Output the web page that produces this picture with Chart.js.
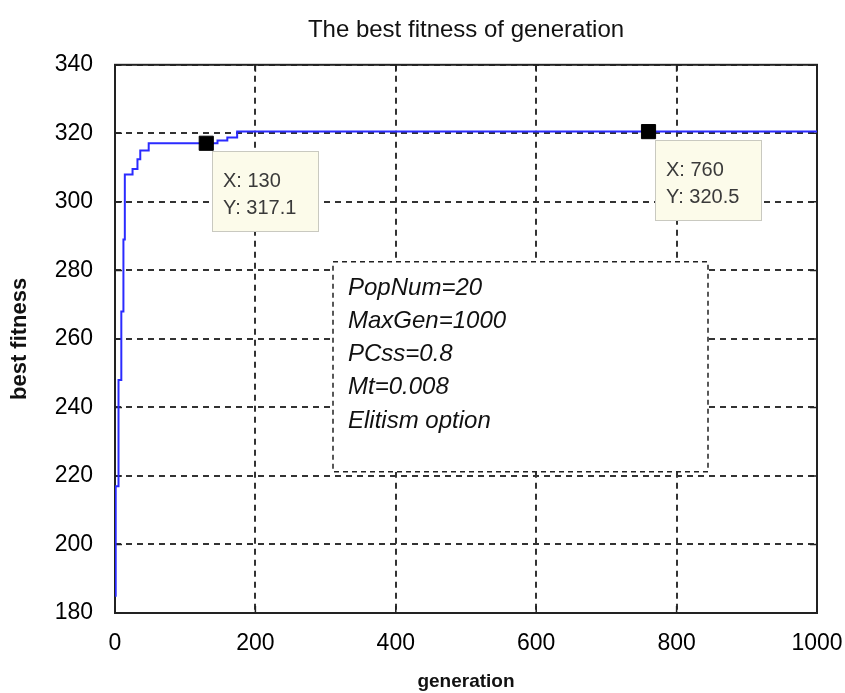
<!DOCTYPE html>
<html>
<head>
<meta charset="utf-8">
<script src="https://cdn.jsdelivr.net/npm/chart.js@4.4.0/dist/chart.umd.min.js"></script>
<style>
  body { margin: 0; background: #fff; }
</style>
</head>
<body>
<canvas id="fitChart" width="845" height="693"></canvas>
<script>
// best fitness per generation (stepped curve, value changes at each generation listed)
const generation = [0, 1, 5, 9, 12, 14, 25, 32, 36, 48, 146, 160, 174, 1000];
const bestFitness = [185, 217, 248, 268, 289, 308, 309.6, 312.4, 315, 317.1, 317.9, 318.8, 320.5, 320.5];

// data tips
const markerGen = [130, 760];
const markerFit = [317.1, 320.5];

const xTicks = [0, 200, 400, 600, 800, 1000];
const yTicks = [180, 200, 220, 240, 260, 280, 300, 320, 340];

const paramLines = ['PopNum=20', 'MaxGen=1000', 'PCss=0.8', 'Mt=0.008', 'Elitism option'];

const FONT = '"Liberation Sans", Arial, sans-serif';

// cadre, petits traits, boite de texte et etiquettes
const extras = {
  id: 'extras',
  beforeDatasetsDraw(chart) {
    const ctx = chart.ctx, ca = chart.chartArea;
    const xs = chart.scales.x, ys = chart.scales.y;
    ctx.save();
    ctx.strokeStyle = '#222';
    ctx.lineWidth = 2;
    ctx.setLineDash([]);
    ctx.strokeRect(ca.left, ca.top, ca.right - ca.left, ca.bottom - ca.top);
    ctx.lineWidth = 1.5;
    ctx.beginPath();
    xTicks.forEach(v => {
      const px = xs.getPixelForValue(v);
      ctx.moveTo(px, ca.top); ctx.lineTo(px, ca.top + 7);
      ctx.moveTo(px, ca.bottom); ctx.lineTo(px, ca.bottom - 7);
    });
    yTicks.forEach(v => {
      const py = ys.getPixelForValue(v);
      ctx.moveTo(ca.left, py); ctx.lineTo(ca.left + 7, py);
      ctx.moveTo(ca.right, py); ctx.lineTo(ca.right - 7, py);
    });
    ctx.stroke();

    // boite des parametres
    const bx = ca.left + 218, by = ca.top + 197, bw = 375, bh = 210;
    ctx.fillStyle = '#fff';
    ctx.fillRect(bx, by, bw, bh);
    ctx.setLineDash([5, 4]);
    ctx.strokeStyle = '#222';
    ctx.lineWidth = 1.5;
    ctx.strokeRect(bx, by, bw, bh);
    ctx.setLineDash([]);
    ctx.fillStyle = '#111';
    ctx.font = 'italic 24px ' + FONT;
    ctx.textBaseline = 'alphabetic';
    paramLines.forEach((t, i) => {
      ctx.fillText(t, bx + 15, by + 33 + i * 33.2);
    });
    ctx.restore();
  },
  afterDraw(chart) {
    const ctx = chart.ctx;
    const xs = chart.scales.x, ys = chart.scales.y;
    ctx.save();
    markerGen.forEach((g, i) => {
      const px = xs.getPixelForValue(g), py = ys.getPixelForValue(markerFit[i]);
      const bx = Math.round(px + 6), by = Math.round(py + 8), bw = 106, bh = 80;
      ctx.fillStyle = '#fcfbea';
      ctx.fillRect(bx, by, bw, bh);
      ctx.strokeStyle = '#c9c9c0';
      ctx.lineWidth = 1;
      ctx.strokeRect(bx + 0.5, by + 0.5, bw, bh);
      ctx.fillStyle = '#3a3a3a';
      ctx.font = '20px ' + FONT;
      ctx.fillText('X: ' + g, bx + 11, by + 36);
      ctx.fillText('Y: ' + markerFit[i].toFixed(1), bx + 11, by + 63);
    });
    ctx.restore();
  }
};

const ctx = document.getElementById('fitChart').getContext('2d');
const fitChart = new Chart(ctx, {
  type: 'line',
  data: {
    datasets: [{
      label: 'data tips',
      data: markerGen.map((g, i) => ({ x: g, y: markerFit[i] })),
      showLine: false,
      pointStyle: 'rect',
      pointRadius: 10,
      pointBackgroundColor: '#000',
      pointBorderColor: '#000',
      pointBorderWidth: 1,
      order: 0
    }, {
      label: 'best fitness',
      data: generation.map((g, i) => ({ x: g, y: bestFitness[i] })),
      stepped: true,
      borderColor: '#2b2bff',
      borderWidth: 2,
      pointRadius: 0,
      fill: false,
      order: 1
    }]
  },
  options: {
    responsive: false,
    animation: false,
    layout: { padding: { left: 0, right: 28, top: 0, bottom: 0 } },
    plugins: {
      legend: { display: false },
      tooltip: { enabled: false },
      title: {
        display: true,
        text: 'The best fitness of generation',
        fullSize: false,
        color: '#111',
        font: { size: 24, family: FONT, weight: 'normal' },
        padding: { top: 16, bottom: 20 }
      }
    },
    scales: {
      x: {
        type: 'linear',
        min: 0,
        max: 1000,
        afterBuildTicks: s => { s.ticks = xTicks.map(v => ({ value: v })); },
        afterFit: s => { s.height = 80; s.paddingLeft = 0; s.paddingRight = 0; },
        grid: { color: '#333', lineWidth: 2, drawTicks: false },
        border: { display: false, dash: [6, 5] },
        ticks: { color: '#000', font: { size: 23, family: FONT }, padding: 17, maxRotation: 0, callback: v => String(v) },
        title: {
          display: true,
          text: 'generation',
          color: '#111',
          font: { size: 19, family: FONT, weight: 'bold' },
          padding: { top: 0, bottom: 0 }
        }
      },
      y: {
        type: 'linear',
        min: 180,
        max: 340,
        afterBuildTicks: s => { s.ticks = yTicks.map(v => ({ value: v })); },
        afterFit: s => { s.width = 115; s.paddingTop = 0; s.paddingBottom = 0; },
        grid: { color: '#333', lineWidth: 2, drawTicks: false },
        border: { display: false, dash: [6, 5] },
        ticks: { color: '#000', font: { size: 23, family: FONT }, padding: 22, callback: v => String(v) },
        title: {
          display: true,
          text: 'best fitness',
          color: '#111',
          font: { size: 22, family: FONT, weight: 'bold' },
          padding: { top: 7, bottom: 0 }
        }
      }
    }
  },
  plugins: [extras]
});
</script>
</body>
</html>
